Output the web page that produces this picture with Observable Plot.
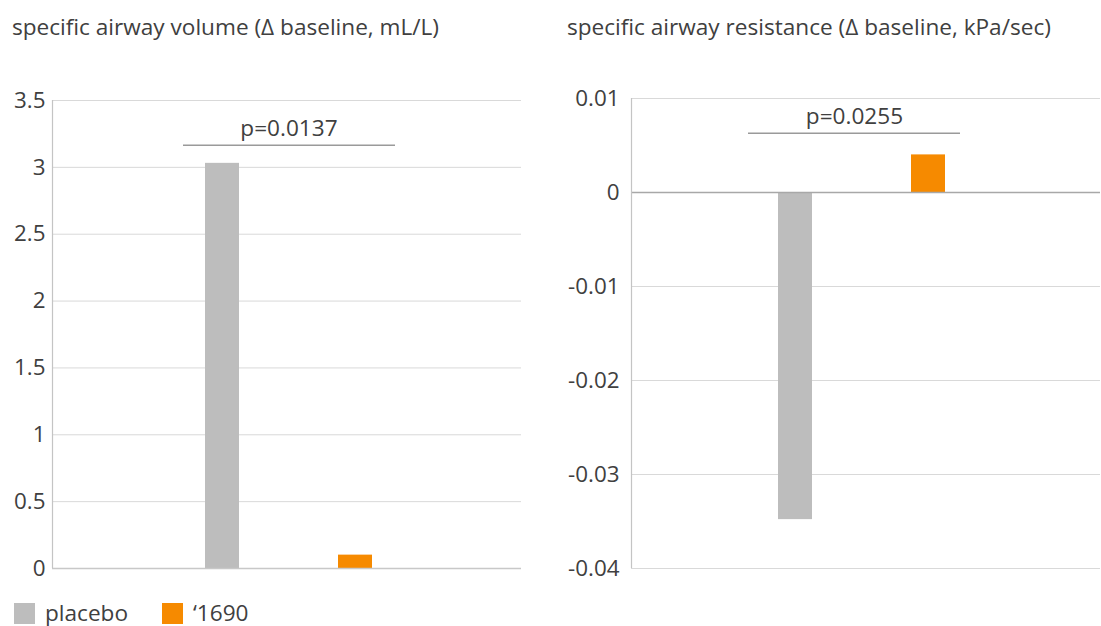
<!DOCTYPE html>
<html>
<head>
<meta charset="utf-8">
<script src="https://cdn.jsdelivr.net/npm/d3@7"></script>
<script src="https://cdn.jsdelivr.net/npm/@observablehq/plot@0.6"></script>
<style>
  html, body { margin: 0; padding: 0; background: #fff; overflow: hidden; }
  #wrap { position: relative; width: 1101px; height: 626px; font-family: "Open Sans", sans-serif; color: #404040; }
  .title { position: absolute; top: 12px; font-size: 22.6px; line-height: 30px; white-space: nowrap; }
  .panel { position: absolute; top: 0; }
  #legend { position: absolute; left: 14px; top: 601px; height: 24px; font-size: 22.6px; line-height: 24px; display: flex; align-items: center; }
  .sw { display: inline-block; width: 21px; height: 21px; margin-right: 10px; }
  .item { display: flex; align-items: center; margin-right: 34px; height: 24px; }
</style>
</head>
<body>
<div id="wrap">
  <div class="title" id="t1" style="left:12px"></div>
  <div class="title" id="t2" style="left:567px"></div>
  <div class="panel" id="p1" style="left:0px"></div>
  <div class="panel" id="p2" style="left:540px"></div>
  <div id="legend"></div>
</div>
<script>
// ---- data ----
const groups = ["placebo", "\u20181690"];
const colors = ["#bdbdbd", "#f68a00"];
const volumeValues = [3.03, 0.1];
const resistanceValues = [-0.0348, 0.004];
const volumeTicks = [0, 0.5, 1, 1.5, 2, 2.5, 3, 3.5];
const resistanceTicks = [-0.04, -0.03, -0.02, -0.01, 0, 0.01];
const titles = ["specific airway volume (\u0394 baseline, mL/L)", "specific airway resistance (\u0394 baseline, kPa/sec)"];
const pLabels = ["p=0.0137", "p=0.0255"];
const pLevels = [3.165, 0.0063];

document.getElementById("t1").textContent = titles[0];
document.getElementById("t2").textContent = titles[1];

const rows = (vals) => groups.map((g, i) => ({group: g, value: vals[i]}));

function axisLine(color) {
  return (index, scales, values, dims) => {
    const l = d3.create("svg:line")
      .attr("x1", dims.marginLeft + 0.5).attr("x2", dims.marginLeft + 0.5)
      .attr("y1", dims.marginTop).attr("y2", dims.height - dims.marginBottom)
      .attr("stroke", color).attr("stroke-width", 1.2);
    return l.node();
  };
}

const common = {
  height: 590,
  marginTop: 100,
  marginBottom: 22,
  style: {fontFamily: "Open Sans", fontSize: "22.4px", color: "#404040", background: "transparent", overflow: "visible"},
  color: {domain: groups, range: colors}
};

const chart1 = Plot.plot({
  ...common,
  width: 540,
  marginLeft: 52,
  marginRight: 19,
  x: {domain: groups, paddingInner: 0.744, paddingOuter: 1.135, align: 0.507, axis: null},
  y: {domain: [0, 3.5], ticks: volumeTicks, tickSize: 0, tickPadding: 7, label: null, tickFormat: d => String(d)},
  marks: [
    Plot.ruleY(volumeTicks.filter(d => d !== 0), {stroke: "#d9d9d9", strokeWidth: 1}),
    Plot.barY(rows(volumeValues), {x: "group", y: "value", fill: "group"}),
    Plot.ruleY([0], {stroke: "#c8c8c8", strokeWidth: 1.5}),
    axisLine("#c4c4c4"),
    Plot.ruleY([pLevels[0]], {stroke: "#9a9a9a", strokeWidth: 1.5, insetLeft: 131, insetRight: 126}),
    Plot.text([pLabels[0]], {y: pLevels[0], text: d => d, dy: -17, dx: 2, fill: "#404040", fontSize: 22.6})
  ]
});

const chart2 = Plot.plot({
  ...common,
  width: 561,
  marginTop: 98,
  marginLeft: 91,
  marginRight: 1,
  x: {domain: groups, paddingInner: 0.744, paddingOuter: 1.135, align: 0.487, axis: null},
  y: {domain: [-0.04, 0.01], ticks: resistanceTicks, tickSize: 0, tickPadding: 12, label: null, tickFormat: d => String(d)},
  marks: [
    Plot.ruleY(resistanceTicks.filter(d => d !== 0), {stroke: "#d9d9d9", strokeWidth: 1}),
    Plot.barY(rows(resistanceValues), {x: "group", y: "value", fill: "group"}),
    Plot.ruleY([0], {stroke: "#a8a8a8", strokeWidth: 1.5}),
    axisLine("#c4c4c4"),
    Plot.ruleY([pLevels[1]], {stroke: "#9a9a9a", strokeWidth: 1.5, insetLeft: 117, insetRight: 140}),
    Plot.text([pLabels[1]], {y: pLevels[1], text: d => d, dy: -17, dx: -11.5, fill: "#404040", fontSize: 22.6})
  ]
});

document.getElementById("p1").appendChild(chart1);
document.getElementById("p2").appendChild(chart2);

const legend = document.getElementById("legend");
groups.forEach((g, i) => {
  const item = document.createElement("span");
  item.className = "item";
  const sw = document.createElement("span");
  sw.className = "sw";
  sw.style.background = colors[i];
  const lab = document.createElement("span");
  lab.textContent = g;
  item.appendChild(sw);
  item.appendChild(lab);
  legend.appendChild(item);
});
</script>
</body>
</html>
